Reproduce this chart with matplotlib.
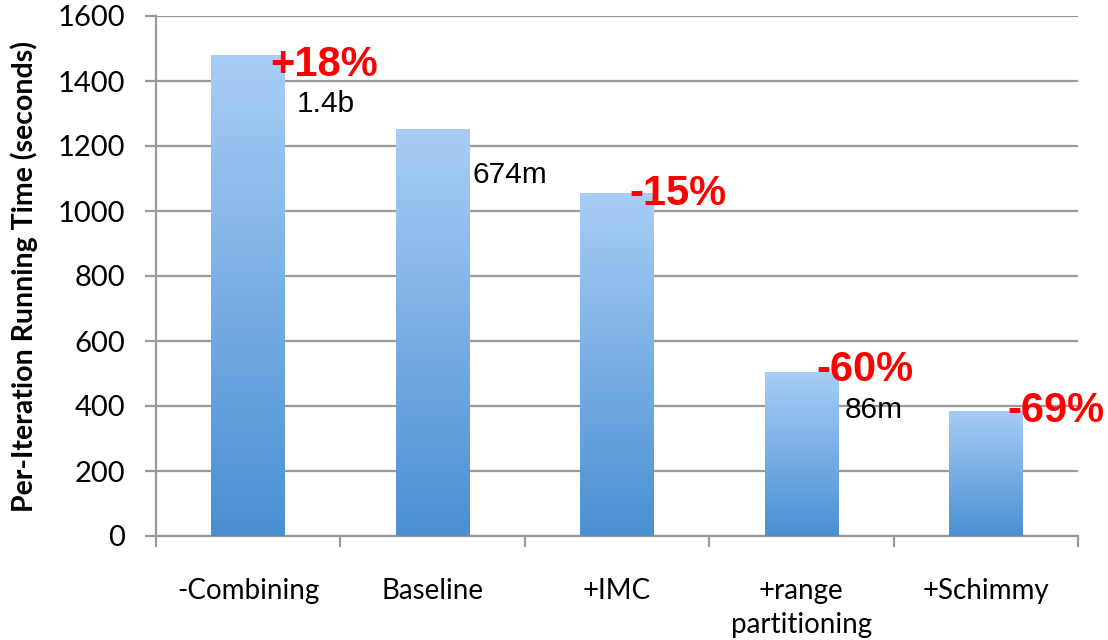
import numpy as np
import matplotlib
matplotlib.use("Agg")
import matplotlib.pyplot as plt
from matplotlib.colors import LinearSegmentedColormap

categories = ["-Combining", "Baseline", "+IMC", "+range\npartitioning", "+Schimmy"]
running_time = [1480, 1252, 1055, 506, 385]
change_labels = ["+18%", None, "-15%", "-60%", "-69%"]
size_labels = ["1.4b", "674m", None, "86m", None]
y_ticks = [0, 200, 400, 600, 800, 1000, 1200, 1400, 1600]

label_font = ["Lato", "DejaVu Sans"]
value_font = ["Liberation Sans", "DejaVu Sans"]
grid_gray = "#9a9a9a"

fig = plt.figure(figsize=(11.08, 6.4), dpi=100)
ax = fig.add_axes([0.1408, 0.1625, 0.8321, 0.8125])

x = np.arange(len(categories))
bars = ax.bar(x, running_time, width=0.4, color="none", edgecolor="none", zorder=3)

# vertical gradient fill, light at the top of each bar and deeper blue at the base
cmap = LinearSegmentedColormap.from_list("barfill", ["#4a8fd3", "#a8cdf6"])
grad = np.linspace(0, 1, 256).reshape(-1, 1)
for b in bars:
    x0, w, h = b.get_x(), b.get_width(), b.get_height()
    im = ax.imshow(grad, cmap=cmap, origin="lower", aspect="auto",
                   extent=[x0, x0 + w, 0, h], zorder=3, interpolation="bicubic")
    im.set_clip_path(b)

ax.set_xlim(-0.5, len(categories) - 0.5)
ax.set_ylim(0, 1600)

# horizontal grid
ax.set_yticks(y_ticks)
ax.yaxis.grid(True, color=grid_gray, linewidth=1.6, zorder=1)
ax.set_axisbelow(True)

for side in ("top", "right"):
    ax.spines[side].set_visible(False)
for side in ("left", "bottom"):
    ax.spines[side].set_color(grid_gray)
    ax.spines[side].set_linewidth(1.6)

ax.tick_params(axis="y", length=8, width=1.6, color=grid_gray, pad=14,
               labelsize=21)
ax.set_xticks(x)
ax.set_xticklabels(categories, fontsize=20, family=label_font, linespacing=1.4)
ax.set_xticks(np.arange(-0.5, len(categories)), minor=True)
ax.tick_params(axis="x", which="major", length=0, pad=30)
ax.tick_params(axis="x", which="minor", length=8, width=1.6, color=grid_gray)
for t in ax.get_yticklabels():
    t.set_family(label_font)

ax.set_ylabel("Per-Iteration Running Time (seconds)", fontsize=20.5,
              fontweight="bold", family=label_font)
ax.yaxis.set_label_coords(-0.128, 0.5)

# percentage change vs. baseline (red) and dataset sizes (black) beside the bars
pct_nudge = [(-15, -21), None, (-24, -12), (-22, -9), (-15, -11)]
size_nudge = [(12, -57), (3, -54), None, (6, -46), None]
for i, v in enumerate(running_time):
    right = i + 0.2
    if change_labels[i]:
        ax.annotate(change_labels[i], (right, v), xytext=pct_nudge[i],
                    textcoords="offset pixels", ha="left", va="baseline",
                    color="#ff0000", fontsize=30, fontweight="bold",
                    family=value_font, zorder=5)
    if size_labels[i]:
        ax.annotate(size_labels[i], (right, v), xytext=size_nudge[i],
                    textcoords="offset pixels", ha="left", va="baseline",
                    color="black", fontsize=21.5, family=value_font, zorder=5)

fig.savefig("out.png", dpi=100)
